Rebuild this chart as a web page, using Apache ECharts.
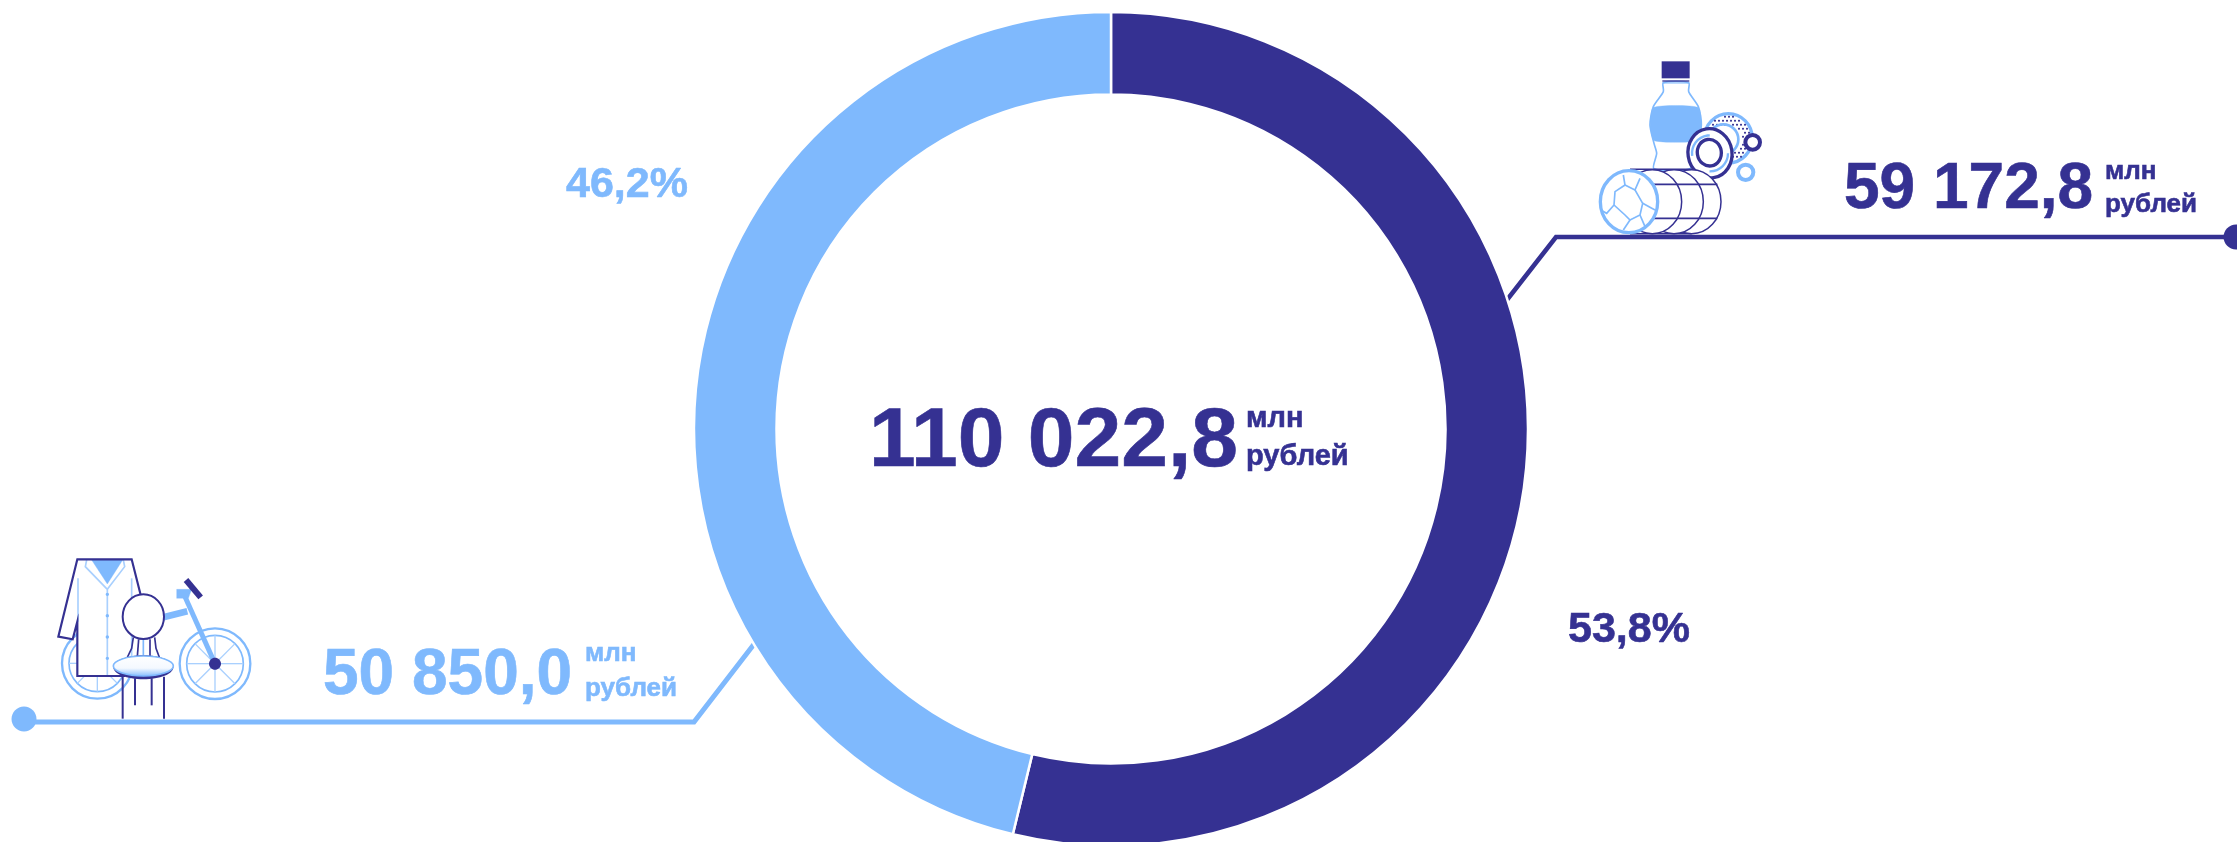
<!DOCTYPE html>
<html>
<head>
<meta charset="utf-8">
<title>110 022,8 млн рублей</title>
<script src="https://cdn.jsdelivr.net/npm/echarts@6/dist/echarts.min.js"></script>
<style>
	html, body { margin: 0; padding: 0; background: #fff; }
	#chart { width: 2237px; height: 842px; }
</style>
</head>
<body>
<div id="chart"></div>
<script>
const groups = ["Группа 1", "Группа 2"];
const values = [59172.8, 50850.0];
const valueLabels = ["59 172,8", "50 850,0"];
const shareLabels = ["53,8%", "46,2%"];
const totalLabel = "110 022,8";
const unitLabels = ["млн", "рублей"];

const DARK = "#353192";
const LIGHT = "#7fb9fd";
const PALE = "#a9d0fe";
const FONT = '"Liberation Sans", Arial, sans-serif';

const text = (str, x, baseline, size, fill) => ({
	type: "text",
	silent: true,
	style: {
		text: str,
		x: x,
		y: baseline - size * 0.35,
		fill: fill,
		stroke: fill,
		lineWidth: 0.6,
		font: "bold " + size + "px " + FONT,
		verticalAlign: "middle",
	},
});

const line = (x1, y1, x2, y2, stroke, lineWidth) => ({
	type: "line",
	silent: true,
	shape: { x1, y1, x2, y2 },
	style: { stroke, lineWidth: lineWidth, lineCap: "butt" },
});

const poly = (points, stroke, lineWidth, fill, smooth) => ({
	type: fill ? "polygon" : "polyline",
	silent: true,
	shape: { points, smooth: smooth || 0 },
	style: { stroke: stroke, lineWidth: lineWidth, fill: fill || "none", lineJoin: "miter" },
});

const ellipse = (cx, cy, rx, ry, stroke, lineWidth, fill, rotation) => ({
	type: "ellipse",
	silent: true,
	x: cx,
	y: cy,
	rotation: rotation || 0,
	shape: { cx: 0, cy: 0, rx, ry },
	style: { stroke: stroke, lineWidth: lineWidth, fill: fill || "none" },
});

const wheel = (cx, cy) => {
	const parts = [
		ellipse(cx, cy, 106, 106, LIGHT, 7, "#fff"),
		ellipse(cx, cy, 85, 85, LIGHT, 5),
	];
	[0, 45, 90, 135, 180, 225, 270, 315].forEach((deg) => {
		const a = (deg * Math.PI) / 180;
		parts.push(line(cx, cy, cx + 85 * Math.cos(a), cy + 85 * Math.sin(a), PALE, 4));
	});
	return parts;
};

// icons are drawn at 3x and scaled down
const icon = (x, y, children) => ({
	type: "group",
	x: x,
	y: y,
	scaleX: 1 / 3,
	scaleY: 1 / 3,
	silent: true,
	children: children,
});

const goodsIcon = () => {
	const dots = [];
	for (let i = 0; i < 11; i++) {
		for (let j = 0; j < 13; j++) {
			const px = 345 + j * 12 + (i % 2) * 6;
			const py = 200 + i * 12;
			const d = Math.hypot(px - 415, py - 265);
			if (d < 68 && d > 42) {
				dots.push(ellipse(px, py, 3, 3, "none", 0, DARK));
			}
		}
	}
	return [
		// bottle
		poly(
			[[220, 98], [220, 125], [190, 170], [180, 225], [192, 280], [200, 310], [192, 356], [300, 356], [300, 310], [320, 280], [334, 225], [325, 170], [296, 125], [296, 98]],
			LIGHT, 5, "#fff", 0.25
		),
		poly(
			[[191, 172], [181, 225], [193, 272], [322, 272], [334, 225], [324, 172]],
			LIGHT, 1, LIGHT, 0.2
		),
		{ type: "rect", silent: true, shape: { x: 215, y: 34, width: 84, height: 51 }, style: { fill: DARK } },
		line(217, 93, 298, 93, DARK, 4),
		line(217, 99, 298, 99, LIGHT, 3),
		// big dotted ring
		ellipse(415, 265, 72, 74, LIGHT, 10, "#fff"),
		...dots,
		ellipse(400, 268, 45, 45, LIGHT, 8),
		// small rings
		ellipse(488, 277, 22, 22, DARK, 12, "#fff"),
		ellipse(467, 367, 23, 23, LIGHT, 12, "#fff"),
		// front ring
		ellipse(360, 310, 66, 74, DARK, 10, "#fff", 0.15),
		{
			type: "arc", silent: true, shape: { cx: 360, cy: 310, r: 54, startAngle: 3.0, endAngle: 4.7, clockwise: true },
			style: { stroke: LIGHT, lineWidth: 7, fill: "none" },
		},
		{
			type: "arc", silent: true, shape: { cx: 360, cy: 310, r: 54, startAngle: 0, endAngle: 1.6, clockwise: true },
			style: { stroke: LIGHT, lineWidth: 7, fill: "none" },
		},
		ellipse(358, 308, 36, 40, DARK, 10, "#fff", 0.15),
		// rolls
		ellipse(305, 455, 88, 96, DARK, 4.5, "#fff"),
		ellipse(252, 455, 88, 96, DARK, 4.5, "#fff"),
		ellipse(187, 455, 88, 96, DARK, 4.5, "#fff"),
		line(120, 358, 305, 358, DARK, 4.5),
		line(120, 551, 305, 551, DARK, 4.5),
		line(190, 403, 382, 403, DARK, 5),
		line(190, 505, 382, 505, DARK, 5),
		ellipse(117, 455, 86, 93, LIGHT, 10, "#fff"),
		poly([[100, 375], [105, 405], [75, 425], [72, 465], [50, 490], [32, 480]], LIGHT, 5),
		poly([[150, 385], [135, 420], [158, 460], [150, 495], [120, 510], [105, 495], [72, 465]], LIGHT, 5),
		poly([[105, 405], [135, 420]], LIGHT, 5),
		poly([[158, 460], [195, 480]], LIGHT, 5),
		poly([[150, 495], [165, 530]], LIGHT, 5),
		poly([[120, 510], [100, 540]], LIGHT, 5),
	];
};

const otherIcon = () => [
	// bicycle
	...wheel(142, 340),
	...wheel(495, 341),
	line(495, 341, 405, 140, LIGHT, 15),
	line(340, 202, 412, 184, LIGHT, 20),
	poly([[380, 118], [425, 118], [415, 145], [380, 145]], LIGHT, 1, LIGHT),
	line(408, 90, 452, 142, DARK, 18),
	ellipse(495, 341, 18, 18, DARK, 0, DARK),
	// coat
	poly([[82, 28], [245, 28], [272, 135], [272, 378], [82, 378], [82, 215], [68, 268], [25, 260]], "none", 0, "#fff"),
	poly([[125, 30], [218, 30], [172, 102]], LIGHT, 1, LIGHT),
	poly([[110, 30], [106, 50], [172, 118], [172, 378]], PALE, 5),
	poly([[220, 30], [224, 50], [172, 118]], PALE, 5),
	line(84, 85, 84, 215, PALE, 5),
	line(245, 85, 245, 378, PALE, 5),
	...[133, 197, 261, 325].map((cy) => ellipse(172, cy, 5, 5, LIGHT, 0, LIGHT)),
	poly([[272, 135], [245, 28], [82, 28], [25, 260], [68, 268], [82, 215], [82, 378], [225, 378]], DARK, 6.5),
	// chair
	poly([[250, 262], [245, 295], [232, 322]], DARK, 5),
	poly([[266, 268], [262, 320]], DARK, 5),
	poly([[280, 268], [280, 320]], LIGHT, 5),
	poly([[300, 268], [300, 320]], DARK, 5),
	poly([[314, 262], [318, 295], [328, 322]], DARK, 5),
	ellipse(280, 200, 62, 67, DARK, 6, "#fff"),
	line(218, 380, 218, 506, DARK, 6),
	line(342, 380, 342, 506, DARK, 6),
	line(255, 385, 255, 466, DARK, 6),
	line(305, 385, 305, 466, DARK, 6),
	{
		type: "ellipse",
		silent: true,
		shape: { cx: 280, cy: 352, rx: 90, ry: 36 },
		style: { fill: DARK },
	},
	{
		type: "ellipse",
		silent: true,
		shape: { cx: 280, cy: 348, rx: 90, ry: 30 },
		style: {
			stroke: LIGHT,
			lineWidth: 5,
			fill: {
				type: "linear", x: 0, y: 0, x2: 0, y2: 1,
				colorStops: [{ offset: 0, color: "#fff" }, { offset: 0.6, color: "#f4f9ff" }, { offset: 1, color: LIGHT }],
			},
		},
	},
];

const chart = echarts.init(document.getElementById("chart"), null, { renderer: "canvas" });

chart.setOption({
	animation: false,
	series: [
		{
			type: "pie",
			center: [1111, 429],
			radius: [334.5, 417],
			startAngle: 90,
			clockwise: true,
			silent: true,
			label: { show: false },
			labelLine: { show: false },
			itemStyle: { borderColor: "#fff", borderWidth: 2.5 },
			data: groups.map((name, i) => ({
				name: name,
				value: values[i],
				itemStyle: { color: i === 0 ? DARK : LIGHT },
			})),
		},
	],
	graphic: {
		elements: [
			// leader lines
			poly([[1503, 305], [1556, 237], [2237, 237]], DARK, 4.5),
			ellipse(2236, 237, 12.5, 12.5, "none", 0, DARK),
			poly([[758, 639], [694, 722], [30, 722]], LIGHT, 5),
			ellipse(24, 719, 12.5, 12.5, "none", 0, LIGHT),

			icon(1590, 50, goodsIcon()),
			icon(50, 550, otherIcon()),

			// centre
			text(totalLabel, 869, 472, 84, DARK),
			text(unitLabels[0], 1246, 429, 29, DARK),
			text(unitLabels[1], 1246, 467, 29, DARK),

			// right
			text(valueLabels[0], 1844, 213, 64, DARK),
			text(unitLabels[0], 2105, 181, 26, DARK),
			text(unitLabels[1], 2105, 214, 26, DARK),
			text(shareLabels[0], 1568, 645, 43, DARK),

			// left
			text(valueLabels[1], 323, 699, 64, LIGHT),
			text(unitLabels[0], 585, 663, 26, LIGHT),
			text(unitLabels[1], 585, 698, 26, LIGHT),
			text(shareLabels[1], 566, 200, 43, LIGHT),
		],
	},
});
</script>
</body>
</html>
